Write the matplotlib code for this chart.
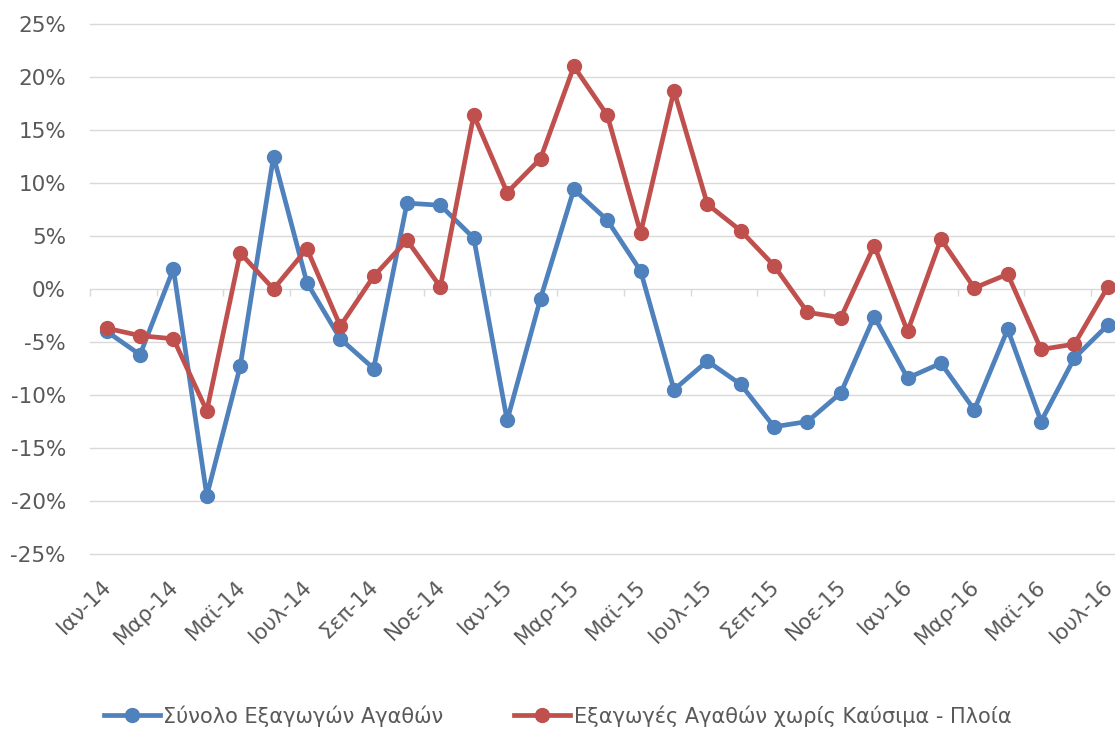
import matplotlib
matplotlib.use("Agg")
import matplotlib.pyplot as plt
import matplotlib.transforms as mtransforms
from matplotlib.ticker import FuncFormatter

# Monthly year-on-year change of goods exports (%)
months = ["Ιαν-14", "Φεβ-14", "Μαρ-14", "Απρ-14", "Μαϊ-14", "Ιουν-14", "Ιουλ-14", "Αυγ-14",
          "Σεπ-14", "Οκτ-14", "Νοε-14", "Δεκ-14", "Ιαν-15", "Φεβ-15", "Μαρ-15", "Απρ-15",
          "Μαϊ-15", "Ιουν-15", "Ιουλ-15", "Αυγ-15", "Σεπ-15", "Οκτ-15", "Νοε-15", "Δεκ-15",
          "Ιαν-16", "Φεβ-16", "Μαρ-16", "Απρ-16", "Μαϊ-16", "Ιουν-16", "Ιουλ-16"]

total_exports = [-4.0, -6.2, 1.9, -19.5, -7.3, 12.5, 0.6, -4.7, -7.5, 8.1, 7.9, 4.8,
                 -12.4, -0.9, 9.4, 6.5, 1.7, -9.5, -6.8, -9.0, -13.0, -12.5, -9.8, -2.6,
                 -8.4, -7.0, -11.4, -3.8, -12.5, -6.5, -3.4]

exports_ex_fuel_ships = [-3.7, -4.4, -4.7, -11.5, 3.4, 0.0, 3.8, -3.5, 1.2, 4.6, 0.2, 16.4,
                         9.1, 12.3, 21.0, 16.4, 5.3, 18.7, 8.0, 5.5, 2.2, -2.2, -2.7, 4.1,
                         -4.0, 4.7, 0.1, 1.4, -5.7, -5.2, 0.2]

series_names = ["Σύνολο Εξαγωγών Αγαθών", "Εξαγωγές Αγαθών χωρίς Καύσιμα - Πλοία"]
y_ticks = [-25, -20, -15, -10, -5, 0, 5, 10, 15, 20, 25]

BLUE = "#4F81BD"
RED = "#C0504D"
TEXT = "#595959"
GRID = "#D9D9D9"
FS = 15.5

fig = plt.figure(figsize=(11.15, 7.3), dpi=100)
ax = fig.add_axes([90 / 1115, 1 - 554 / 730, 1034.5 / 1115, 530 / 730])

x = list(range(len(months)))
ax.plot(x, total_exports, color=BLUE, lw=3.4, marker="o", ms=10, zorder=3,
        label=series_names[0], solid_joinstyle="round")
ax.plot(x, exports_ex_fuel_ships, color=RED, lw=3.4, marker="o", ms=10, zorder=3,
        label=series_names[1], solid_joinstyle="round")

ax.set_xlim(-0.5, len(months) - 0.5)
ax.set_ylim(-25, 25)
ax.set_yticks(y_ticks)
ax.yaxis.set_major_formatter(FuncFormatter(lambda v, p: f"{v:.0f}%"))
ax.grid(axis="y", color=GRID, lw=1.0, zorder=0)
ax.set_axisbelow(True)
for gl in ax.get_ygridlines():
    gl.set_clip_on(False)

for s in ax.spines.values():
    s.set_visible(False)

# Category ticks on the zero line, every second boundary
boundaries = [i - 0.5 for i in range(0, len(months) + 1, 2)]
ax.plot(boundaries, [0] * len(boundaries), ls="none", marker=3, ms=5,
        mec=GRID, mew=1.0, zorder=1, clip_on=False)

ax.set_xticks(x[::2])
ax.set_xticklabels(months[::2], rotation=45, ha="right", va="top",
                   rotation_mode="anchor")
ax.tick_params(axis="x", length=0, pad=16, labelsize=FS, labelcolor=TEXT)
ax.tick_params(axis="y", length=0, pad=17.3, labelsize=FS, labelcolor=TEXT)

shift = mtransforms.ScaledTranslation(-5 / 100, 0, fig.dpi_scale_trans)
for lbl in ax.get_xticklabels():
    lbl.set_transform(lbl.get_transform() + shift)

fig.legend(loc="center", bbox_to_anchor=(0.5, 1 - 716 / 730), ncol=2, frameon=False,
           fontsize=15, labelcolor=TEXT, handlelength=2.7, handletextpad=0.15,
           columnspacing=3.4)

fig.savefig("out.png", dpi=100)
